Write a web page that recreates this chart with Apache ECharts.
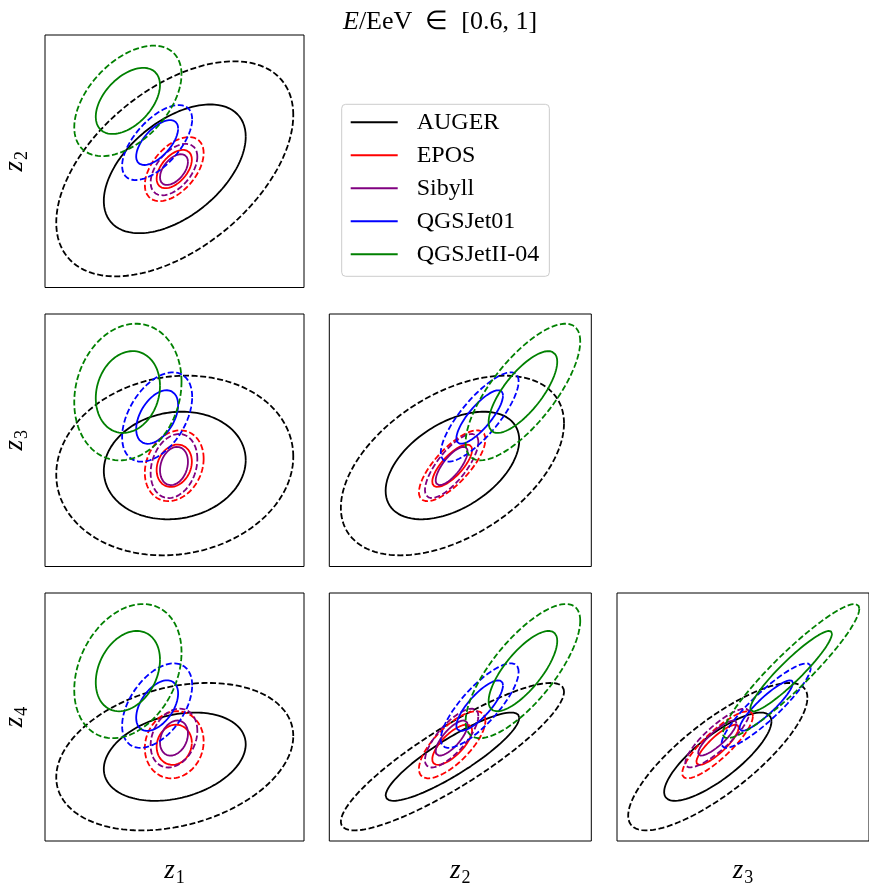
<!DOCTYPE html>
<html><head><meta charset="utf-8">
<script src="https://cdn.jsdelivr.net/npm/echarts@6/dist/echarts.min.js"></script>
<style>html,body{margin:0;padding:0;background:#fff}#c{width:869px;height:888px}</style>
</head><body><div id="c"></div>
<script>
// variables z1..z4, each axis spans 0..100 (arbitrary units)
const variables = ['1', '2', '3', '4'];
const models = ['AUGER', 'EPOS', 'Sibyll', 'QGSJet01', 'QGSJetII-04'];
const modelColors = ['#000000', '#ff0000', '#800080', '#0000ff', '#008000'];
// centres per variable [z1, z2, z3, z4]
const augerMean = [50.1, 47.0, 40.0, 34.0];
const eposMean = [49.9, 46.9, 39.9, 38.8];
const sibyllMean = [49.8, 46.7, 39.8, 41.5];
const qgsjet01Mean = [43.3, 57.4, 59.2, 54.6];
const qgsjet2Mean = [32.0, 73.9, 69.1, 68.5];
// inner-contour half widths per variable
const augerSpread = [27.4, 25.5, 21.3, 17.8];
const eposSpread = [6.8, 7.6, 8.4, 8.1];
const sibyllSpread = [5.4, 6.1, 7.6, 7.1];
const qgsjet01Spread = [8.1, 8.9, 10.6, 10.2];
const qgsjet2Spread = [12.4, 13.1, 16.2, 16.2];
// correlations [r12, r13, r14, r23, r24, r34]
const augerCorr = [0.50, 0.10, 0.28, 0.47, 0.88, 0.80];
const eposCorr = [0.50, 0.20, 0.10, 0.75, 0.72, 0.85];
const sibyllCorr = [0.50, 0.22, 0.25, 0.75, 0.75, 0.85];
const qgsjet01Corr = [0.62, 0.45, 0.48, 0.80, 0.80, 0.90];
const qgsjet2Corr = [0.48, 0.15, 0.28, 0.74, 0.75, 0.93];
// contour scale: inner (solid) and outer (dashed)
const contourLevels = [1.0, 1.67];
const pairs = [[0, 1], [0, 2], [0, 3], [1, 2], [1, 3], [2, 3]];

const meanList = [augerMean, eposMean, sibyllMean, qgsjet01Mean, qgsjet2Mean];
const spreadList = [augerSpread, eposSpread, sibyllSpread, qgsjet01Spread, qgsjet2Spread];
const corrList = [augerCorr, eposCorr, sibyllCorr, qgsjet01Corr, qgsjet2Corr];

const colLeft = [42, 329.3, 617];
const rowTop = [35, 314, 593];
const panelW = 262, panelH = 252.5;

function ellipse(m, s, r, k) {
  const pts = [];
  const q = Math.sqrt(1 - r * r);
  for (let i = 0; i <= 180; i++) {
    const t = 2 * Math.PI * i / 180;
    pts.push([m[0] + k * s[0] * Math.cos(t), m[1] + k * s[1] * (r * Math.cos(t) + q * Math.sin(t))]);
  }
  return pts;
}

const serif = 'Liberation Serif';
function zName(d) {
  return '{z|z}{s|' + d + '}';
}
const nameRich = {
  z: { fontFamily: serif, fontStyle: 'italic', fontSize: 27, lineHeight: 26, verticalAlign: 'top', color: '#000' },
  s: { fontFamily: serif, fontSize: 18, padding: [12, 0, 0, 1], verticalAlign: 'bottom', color: '#000' }
};

const grids = [], xAxes = [], yAxes = [], series = [];
pairs.forEach((p, gi) => {
  const col = p[0], row = p[1] - 1;
  grids.push({ left: colLeft[col], top: rowTop[row], width: panelW, height: panelH, show: true, borderColor: '#000', borderWidth: 1, backgroundColor: 'transparent' });
  const xa = { type: 'value', gridIndex: gi, min: 0, max: 100, axisLine: { show: false }, axisTick: { show: false }, axisLabel: { show: false }, splitLine: { show: false } };
  if (row === 2) {
    xa.name = zName(variables[col]);
    xa.nameLocation = 'middle';
    xa.nameGap = 16;
    xa.nameTextStyle = { rich: nameRich };
  }
  const ya = { type: 'value', gridIndex: gi, min: 0, max: 100, axisLine: { show: false }, axisTick: { show: false }, axisLabel: { show: false }, splitLine: { show: false } };
  if (col === 0) {
    ya.name = zName(variables[p[1]]);
    ya.nameLocation = 'middle';
    ya.nameRotate = 90;
    ya.nameGap = 14;
    ya.nameTextStyle = { rich: nameRich };
  }
  xAxes.push(xa); yAxes.push(ya);
  const ci = (p[0] === 0 ? p[1] - 1 : (p[0] === 1 ? p[1] + 1 : 5));
  models.forEach((mName, mi) => {
    const m = [meanList[mi][p[0]], meanList[mi][p[1]]];
    const s = [spreadList[mi][p[0]], spreadList[mi][p[1]]];
    const r = corrList[mi][ci];
    contourLevels.forEach((k, li) => {
      series.push({
        type: 'line', name: li === 0 ? mName : mName + ' outer',
        xAxisIndex: gi, yAxisIndex: gi,
        data: ellipse(m, s, r, k),
        showSymbol: false, symbol: 'none', smooth: false, clip: true,
        color: modelColors[mi],
        itemStyle: { color: modelColors[mi] },
        lineStyle: { color: modelColors[mi], width: 1.8, type: li === 0 ? 'solid' : [6, 2.6] },
        emphasis: { disabled: true }, silent: true, animation: false
      });
    });
  });
});

const chart = echarts.init(document.getElementById('c'), null, { renderer: 'canvas' });
chart.setOption({
  backgroundColor: '#ffffff',
  animation: false,
  title: {
    text: '{i|E}/EeV  ∈  [0.6, 1]', left: 338, top: 4,
    textStyle: { fontFamily: serif, fontSize: 26, fontWeight: 'normal', color: '#000',
      rich: { i: { fontFamily: serif, fontStyle: 'italic', fontSize: 26, color: '#000' } } }
  },
  legend: {
    data: models, orient: 'vertical', left: 341.7, top: 104.3,
    icon: 'rect', itemWidth: 47, itemHeight: 2, itemGap: 9,
    padding: [6, 10, 10, 9], backgroundColor: '#fff', borderColor: '#cccccc', borderWidth: 1, borderRadius: 4,
    selectedMode: false,
    textStyle: { fontFamily: serif, fontSize: 24, color: '#000', lineHeight: 24, padding: [0, 0, 0, 14] }
  },
  grid: grids, xAxis: xAxes, yAxis: yAxes, series: series
});
</script></body></html>
